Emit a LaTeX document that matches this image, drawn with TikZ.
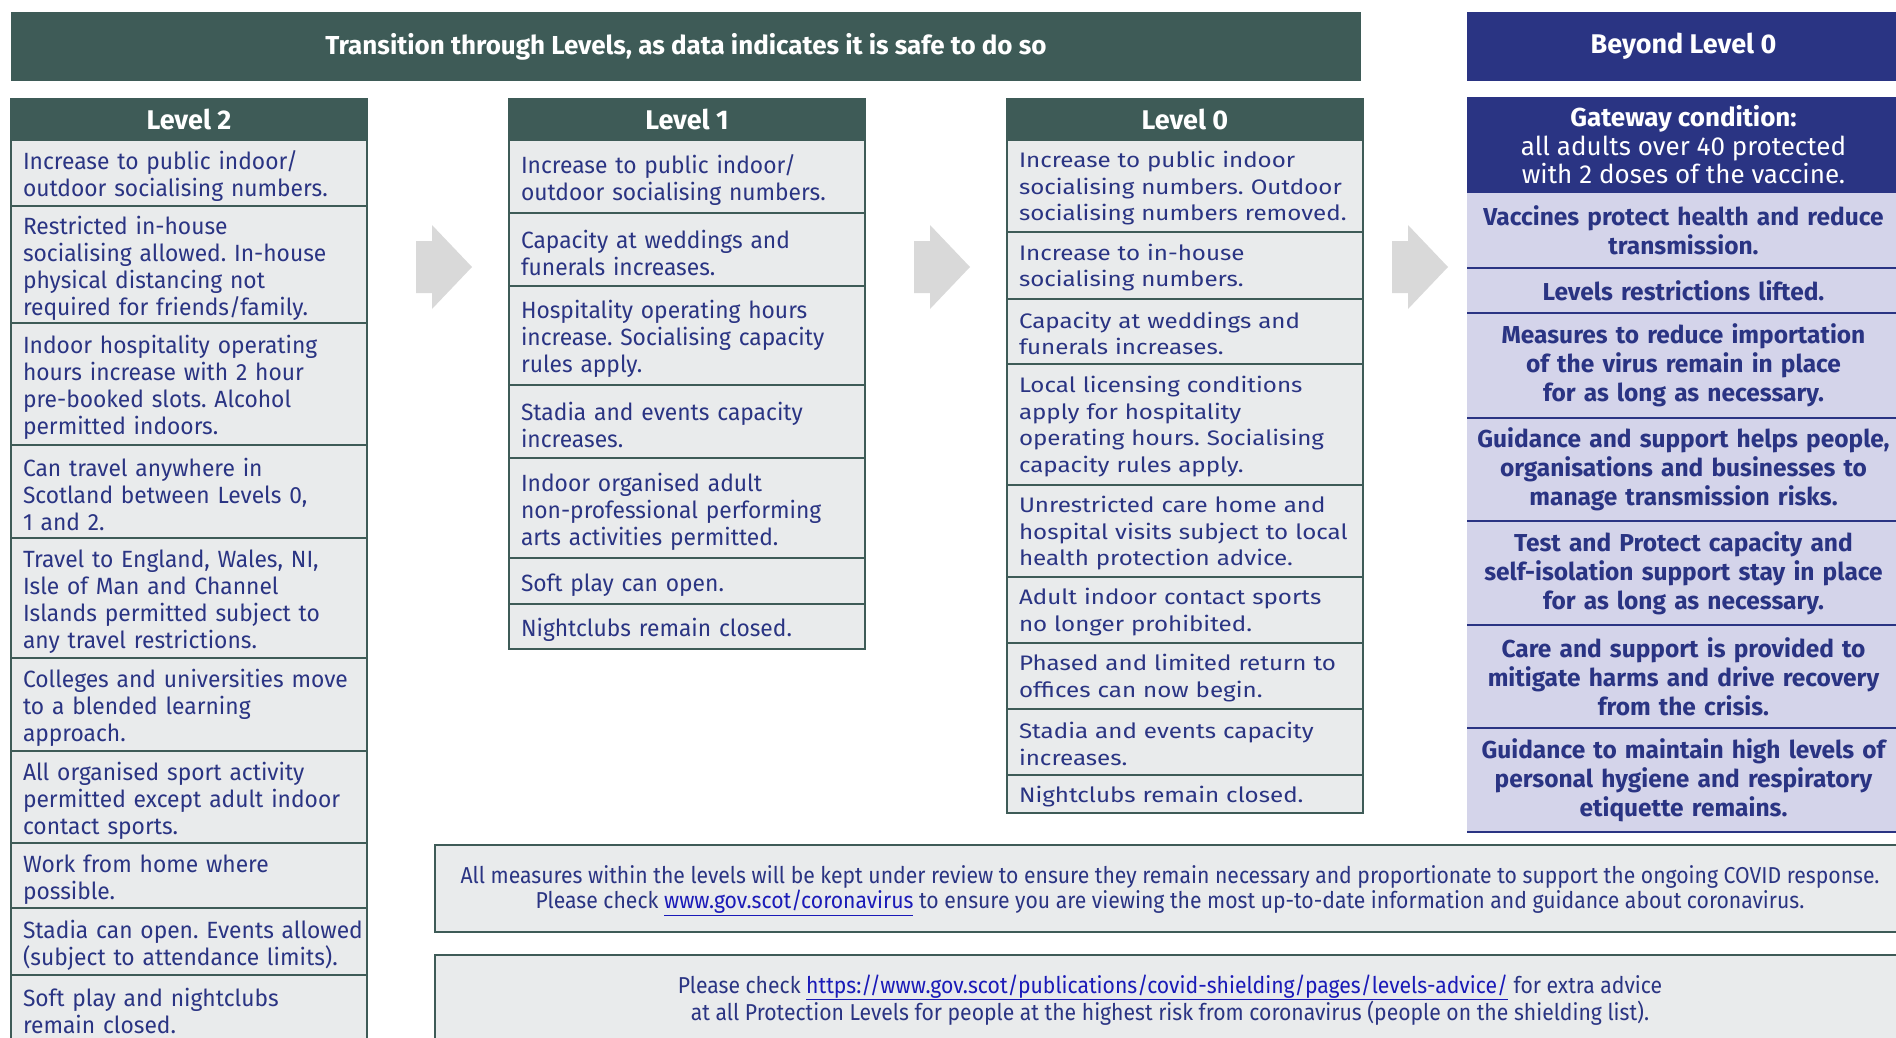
\documentclass[tikz,border=0pt]{standalone}
\usepackage{fontspec}
\setmainfont{Fira Sans}
\newfontfamily\bodyfont[FakeStretch=0.97]{Fira Sans}
\newfontfamily\widefont[FakeStretch=1.15]{Fira Sans}
\newfontfamily\narrowfont[FakeStretch=0.92]{Fira Sans}
\usetikzlibrary{positioning}

\definecolor{govgreen}{HTML}{3E5B57}
\definecolor{govnavy}{HTML}{2A3483}
\definecolor{cellgrey}{HTML}{E9EBEC}
\definecolor{lilac}{HTML}{D4D4EA}
\definecolor{arrowgrey}{HTML}{D9D9D9}
\definecolor{linkblue}{HTML}{1A1AB8}

\begin{document}
\frenchspacing
\begin{tikzpicture}[
    x=1pt, y=-1pt,
    node distance=0pt,
    every node/.style={outer sep=0pt},
    banner/.style={fill=govgreen, text=white, anchor=north west, minimum height=69pt, font=\bfseries\fontsize{26}{30}\selectfont},
    header/.style={fill=govgreen, draw=govgreen, line width=2pt, text=white, minimum height=41pt, minimum width=356pt, font=\bfseries\fontsize{27}{30}\selectfont},
    cell/.style={fill=cellgrey, draw=govgreen, line width=2pt, text=govnavy, minimum height=#1, text width=344pt, inner xsep=6pt, inner ysep=2pt, align=left,
        execute at begin node={\leftskip=6pt\hyphenpenalty=10000\leavevmode\rule{0pt}{\cellrise}},
        font=\bodyfont\fontsize{23.5}{27}\selectfont\def\cellrise{25pt}},
    widecell/.style={cell=#1, font=\widefont\fontsize{21}{26.5}\selectfont\def\cellrise{20.5pt}},
    gate/.style={fill=govnavy, text=white, minimum width=433pt, minimum height=96pt, align=center, font=\fontsize{26}{28.5}\selectfont},
    aim/.style={fill=lilac, text=govnavy, minimum width=433pt, minimum height=#1, text width=429pt, inner xsep=2pt, inner ysep=2pt, align=center, font=\bfseries\fontsize{24.5}{29}\selectfont},
    rule/.style={draw=govnavy, line width=1.5pt},
    note/.style={fill=cellgrey, draw=govgreen, line width=2pt, anchor=north west, minimum width=1470pt, minimum height=#1, align=center, text=govnavy, font=\narrowfont\fontsize{23}{25}\selectfont},
    chevron/.style={fill=arrowgrey}
]
\useasboundingbox (0,0) rectangle (1896,1037);
\clip (0,0) rectangle (1896,1037);

\node[banner, minimum width=1350pt] (title) at (11,12) {Transition through Levels, as data indicates it is safe to do so};
\node[banner, fill=govnavy, minimum width=433pt, font=\bfseries\fontsize{27}{30}\selectfont] (beyond) at (1467,12) {Beyond Level 0};

\node[header, anchor=north west] (lvtwo) at (11,99) {Level 2};
\node[header, right=142pt of lvtwo] (lvone) {Level 1};
\node[header, right=142pt of lvone] (lvzero) {Level 0};

\node[cell=66pt, below=of lvtwo] (two1) {Increase to public indoor/\\outdoor socialising numbers.};
\node[cell=117pt, below=of two1] (two2) {Restricted in-house\\socialising allowed. In-house\\physical distancing not\\required for friends/family.};
\node[cell=122pt, below=of two2] (two3) {Indoor hospitality operating\\hours increase with 2 hour\\pre-booked slots. Alcohol\\permitted indoors.};
\node[cell=93pt, below=of two3] (two4) {Can travel anywhere in\\Scotland between Levels 0,\\1 and 2.};
\node[cell=120pt, below=of two4] (two5) {Travel to England, Wales, NI,\\Isle of Man and Channel\\Islands permitted subject to\\any travel restrictions.};
\node[cell=93pt, below=of two5] (two6) {Colleges and universities move\\to a blended learning\\approach.};
\node[cell=92pt, below=of two6] (two7) {All organised sport activity\\permitted except adult indoor\\contact sports.};
\node[cell=65pt, below=of two7] (two8) {Work from home where\\possible.};
\node[cell=67pt, below=of two8] (two9) {\mbox{Stadia can open. Events allowed}\\(subject to attendance limits).};
\node[cell=65pt, below=of two9] (two10) {Soft play and nightclubs\\remain closed.};

\node[cell=73pt, below=of lvone] (one1) {Increase to public indoor/\\outdoor socialising numbers.};
\node[cell=73pt, below=of one1] (one2) {Capacity at weddings and\\funerals increases.};
\node[cell=99pt, below=of one2] (one3) {Hospitality operating hours\\increase. Socialising capacity\\rules apply.};
\node[cell=73pt, below=of one3] (one4) {Stadia and events capacity\\increases.};
\node[cell=100pt, below=of one4] (one5) {Indoor organised adult\\non-professional performing\\arts activities permitted.};
\node[cell=46pt, below=of one5] (one6) {Soft play can open.};
\node[cell=45pt, below=of one6] (one7) {Nightclubs remain closed.};

\node[widecell=92pt, below=of lvzero] (zero1) {Increase to public indoor\\socialising numbers. Outdoor\\socialising numbers removed.};
\node[widecell=67pt, below=of zero1] (zero2) {Increase to in-house\\socialising numbers.};
\node[widecell=65pt, below=of zero2] (zero3) {Capacity at weddings and\\funerals increases.};
\node[widecell=121pt, below=of zero3] (zero4) {Local licensing conditions\\apply for hospitality\\operating hours. Socialising\\capacity rules apply.};
\node[widecell=92pt, below=of zero4] (zero5) {Unrestricted care home and\\hospital visits subject to local\\health protection advice.};
\node[widecell=66pt, below=of zero5] (zero6) {Adult indoor contact sports\\no longer prohibited.};
\node[widecell=66pt, below=of zero6] (zero7) {Phased and limited return to\\offices can now begin.};
\node[widecell=66pt, below=of zero7] (zero8) {Stadia and events capacity\\increases.};
\node[widecell=38pt, below=of zero8] (zero9) {Nightclubs remain closed.};

\node[gate, below=16pt of beyond] (gateway) {\textbf{Gateway condition:}\\all adults over 40 protected\\with 2 doses of the vaccine.};
\node[aim=75pt, below=of gateway] (aim1) {Vaccines protect health and reduce\\transmission.};
\node[aim=45pt, below=of aim1] (aim2) {Levels restrictions lifted.};
\node[aim=105pt, below=of aim2] (aim3) {Measures to reduce importation\\of the virus remain in place\\for as long as necessary.};
\node[aim=103pt, below=of aim3] (aim4) {Guidance and support helps people,\\organisations and businesses to\\manage transmission risks.};
\node[aim=104pt, below=of aim4] (aim5) {Test and Protect capacity and\\self-isolation support stay in place\\for as long as necessary.};
\node[aim=103pt, below=of aim5] (aim6) {Care and support is provided to\\mitigate harms and drive recovery\\from the crisis.};
\node[aim=104pt, below=of aim6] (aim7) {Guidance to maintain high levels of\\personal hygiene and respiratory\\etiquette remains.};
\foreach \r in {aim1,aim2,aim3,aim4,aim5,aim6,aim7}
    \draw[rule] (\r.south west) -- (\r.south east);

\foreach \ax in {416,914,1392}
    \fill[chevron] (\ax,267) ++(0,-26) -- ++(16,0) -- ++(0,-16) -- ++(40,42) -- ++(-40,42) -- ++(0,-16) -- ++(-16,0) -- cycle;

\node[note=87pt] (review) at (435,845) {\rule{0pt}{22pt}All measures within the levels will be kept under review to ensure they remain necessary and proportionate to support the ongoing COVID response.\\Please check {\color{linkblue}\underline{www.gov.scot/coronavirus}} to ensure you are viewing the most up-to-date information and guidance about coronavirus.};
\node[note=90pt, below=23pt of review] (shield) {Please check {\color{linkblue}\underline{https://www.gov.scot/publications/covid-shielding/pages/levels-advice/}} for extra advice\\at all Protection Levels for people at the highest risk from coronavirus (people on the shielding list).};
\end{tikzpicture}
\end{document}
